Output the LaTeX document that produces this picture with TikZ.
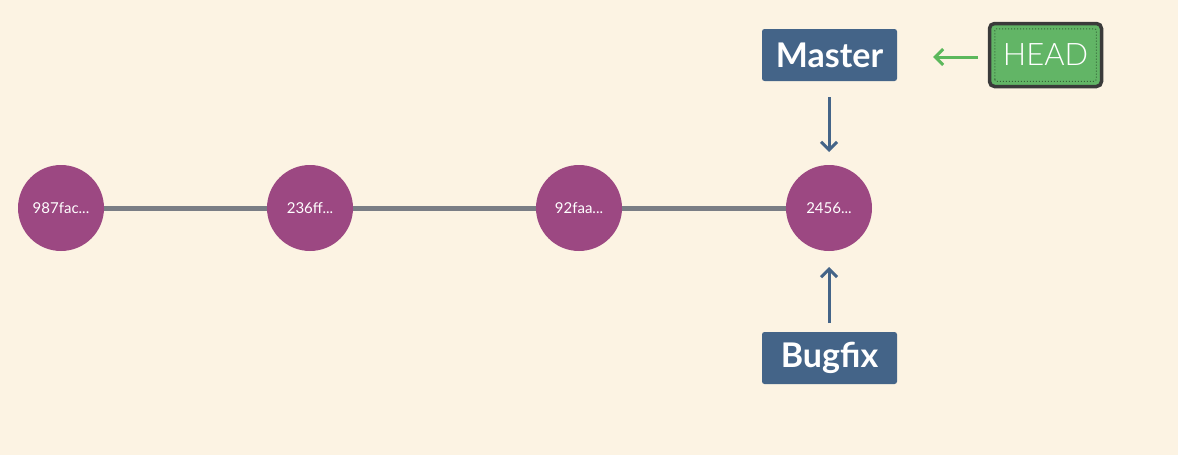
\documentclass[tikz,border=0pt]{standalone}
\usepackage{fontspec}
\setmainfont{Lato}
\newfontfamily\latolight{Lato Light}
\usetikzlibrary{arrows.meta}
\definecolor{bg}{HTML}{FCF3E3}
\definecolor{commit}{HTML}{9C4882}
\definecolor{linegray}{HTML}{7A7D85}
\definecolor{branch}{HTML}{446488}
\definecolor{headgreen}{HTML}{62B566}
\definecolor{headborder}{HTML}{3A3A3A}
\definecolor{arrowgreen}{HTML}{5CB85C}
\tikzset{
  commitnode/.style={circle, fill=commit, minimum size=86pt, inner sep=0pt, text=white, font=\fontsize{15}{17}\selectfont},
  branchbox/.style={rectangle, rounded corners=2.5pt, fill=branch, minimum width=135pt, minimum height=52pt, inner sep=0pt, text=white, font=\bfseries\fontsize{34}{36}\selectfont},
  headbox/.style={rectangle, rounded corners=5pt, fill=headgreen, draw=headborder, line width=3.5pt, minimum width=112pt, minimum height=63pt, inner sep=0pt, text=white, font=\latolight\fontsize{31}{34}\selectfont},
  chain/.style={draw=linegray, line width=5pt},
  ptr/.style={draw=branch, line width=3pt, -{Straight Barb[length=8pt,width=16pt,line width=3pt]}},
  headptr/.style={draw=arrowgreen, line width=3pt, -{Straight Barb[length=8pt,width=16pt,line width=3pt]}}
}
\begin{document}
\begin{tikzpicture}[x=1pt,y=-1pt]
\fill[bg] (0,0) rectangle (1178,455);
\useasboundingbox (0,0) rectangle (1178,455);
\node[commitnode] (c1) at (61,208) {987fac...};
\node[commitnode] (c2) at (310,208) {236ff...};
\node[commitnode] (c3) at (579,208) {92faa...};
\node[commitnode] (c4) at (829,208) {2456...};
\draw[chain] (c1) -- (c2);
\draw[chain] (c2) -- (c3);
\draw[chain] (c3) -- (c4);
\node[branchbox] (master) at (829.5,55) {Master};
\node[branchbox] (bugfix) at (829.5,358) {Bugfix};
\node[headbox] (head) at (1045.5,55) {HEAD};
\draw[draw=headgreen!55!black, dotted, line width=1pt, rounded corners=2pt] ([shift={(7pt,7pt)}]head.south west) rectangle ([shift={(-7pt,-7pt)}]head.north east);
\coordinate (m0) at (829,97);
\coordinate (b0) at (829,323);
\coordinate (h0) at (978,57);
\coordinate (h1) at (933,57);
\coordinate (m1) at (829,152);
\coordinate (b1) at (829,267);
\draw[ptr] (m0) -- (m1);
\draw[ptr] (b0) -- (b1);
\draw[headptr] (h0) -- (h1);
\end{tikzpicture}
\end{document}
